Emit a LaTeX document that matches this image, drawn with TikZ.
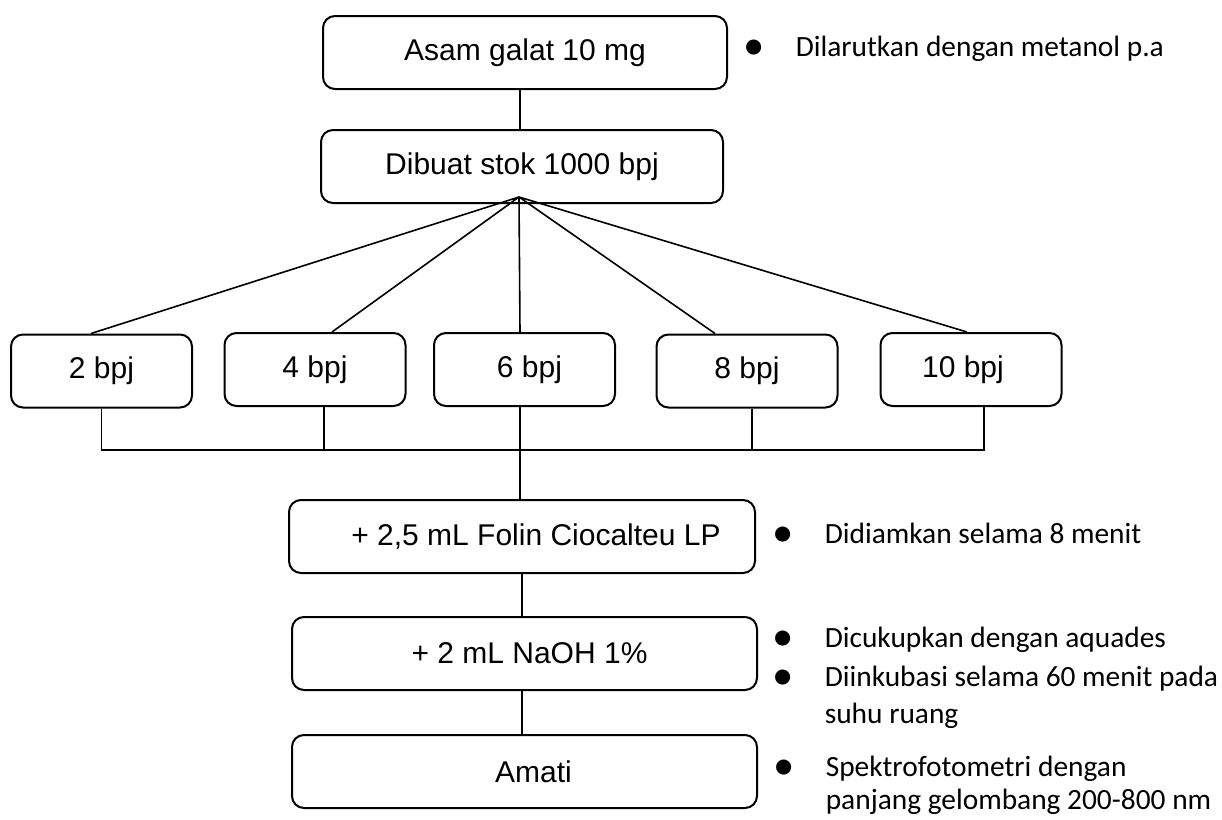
\documentclass[tikz,border=0pt]{standalone}
\usepackage{fontspec}
\setmainfont{Liberation Sans}
\newfontfamily\notefont{Carlito}
\usepackage{tikz}
\newcommand{\notebullet}{\makebox[24.5pt][l]{\makebox[7pt]{\raisebox{-1.6pt}{\scalebox{1.45}{\textbullet}}}}}

\begin{document}
\begin{tikzpicture}[x=0.5pt, y=-0.5pt, line width=0.8pt,
    box/.style={draw, rounded corners=6pt, line width=1pt, inner sep=0pt, minimum height=36.5pt, font=\fontsize{15}{17}\selectfont},
    dose/.style={box, minimum width=90.5pt},
    note/.style={anchor=base west, inner sep=0pt, font=\notefont\fontsize{14.7}{18.5}\selectfont}]
	\useasboundingbox (0,0) rectangle (1222,820);

	\node[box, minimum width=202pt] (asam) at (525,52.5) {Asam galat 10 mg};
	\node[box, minimum width=201pt] (stok) at (522,166.5) {Dibuat stok 1000 bpj};
	\coordinate (apex) at (519,197);

	\node[dose] (b2) at (101.5,371) {2 bpj};
	\node[dose] (b4) at (315,369.5) {4 bpj};
	\node[dose] (b6) at (524.5,369.5) {\hspace*{5pt}6 bpj};
	\node[dose] (b8) at (747,371) {8 bpj};
	\node[dose] (b10) at (971,369.5) {10 bpj\hspace*{8pt}};
	\coordinate (bus) at (0,450);

	\node[box, minimum width=233pt] (folin) at (522,536.5) {\hspace*{14pt}+ 2,5 mL Folin Ciocalteu LP};
	\node[box, minimum width=232.5pt] (naoh) at (524.5,653.5) {\hspace*{5pt}+ 2 mL NaOH 1\%};
	\node[box, minimum width=232.5pt] (amati) at (524.5,771.5) {\hspace*{9pt}Amati};

	\node[note] (n1) at (746,56) {\notebullet Dilarutkan dengan metanol p.a};
	\node[note] (n2) at (775,543) {\notebullet Didiamkan selama 8 menit};
	\node[note] (n3) at (775,647) {\begin{tabular}[t]{@{}l@{}l@{}}\notebullet & Dicukupkan dengan aquades\\[1pt]
		\notebullet & Diinkubasi selama 60 menit pada\\
		& suhu ruang\end{tabular}};
	\node[note, font=\notefont\fontsize{14.7}{16.5}\selectfont] (n4) at (776,776) {\begin{tabular}[t]{@{}l@{}l@{}}\notebullet & Spektrofotometri dengan\\
		& panjang gelombang 200-800 nm\end{tabular}};

	\draw ([xshift=-2.5pt]asam.south) -- ([xshift=-2.5pt]asam.south |- stok.north);
	\draw (apex) -- ([xshift=-5.25pt]b2.north)
		(apex) -- ([xshift=8.5pt]b4.north)
		(apex) -- ([xshift=-2.25pt]b6.north)
		(apex) -- ([xshift=-16pt]b8.north)
		(apex) -- ([xshift=-2pt]b10.north);

	\draw (b2.south) -- (b2.south |- bus) -- ([xshift=6.5pt]b10.south |- bus) -- ([xshift=6.5pt]b10.south);
	\draw ([xshift=4.5pt]b4.south) -- ([xshift=4.5pt]b4.south |- bus);
	\draw ([xshift=2.5pt]b8.south) -- ([xshift=2.5pt]b8.south |- bus);
	\draw ([xshift=-2.25pt]b6.south) -- ([xshift=-2.25pt]b6.south |- folin.north);

	\draw (folin.south) -- (folin.south |- naoh.north);
	\draw ([xshift=-1.25pt]naoh.south) -- ([xshift=-1.25pt]naoh.south |- amati.north);
\end{tikzpicture}
\end{document}
